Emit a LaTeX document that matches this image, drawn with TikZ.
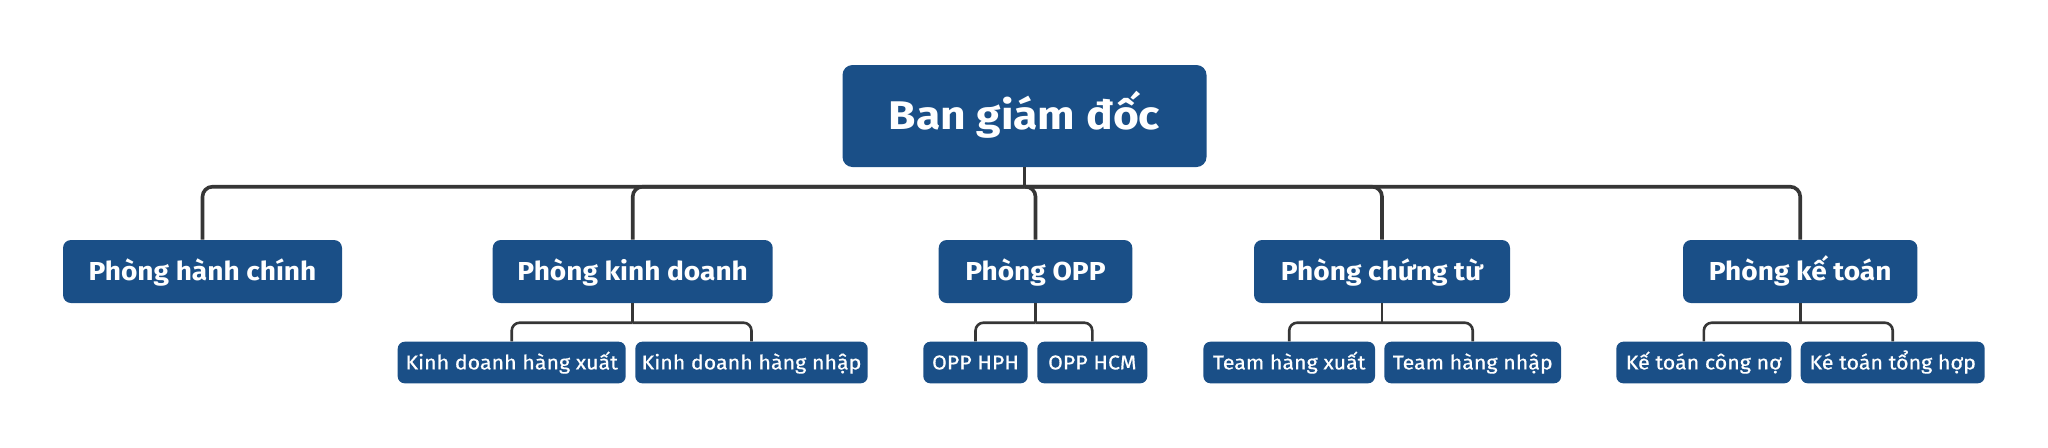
\documentclass[tikz,border=0pt]{standalone}
\usepackage{fontspec}
\setmainfont{Fira Sans}
\newfontfamily\topfont{Fira Sans}[FakeStretch=1.11]
\newfontfamily\deptfont{Fira Sans}[FakeStretch=1.08]
\newfontfamily\teamfont{Fira Sans}[FakeStretch=1.07, FakeBold=0.6]
\usepackage{xcolor}
\definecolor{boxblue}{HTML}{1A4F87}
\definecolor{linegray}{HTML}{363636}

\begin{document}
\begin{tikzpicture}[x=0.5pt, y=-0.5pt,
    box/.style={fill=boxblue, text=white, align=center, inner xsep=0pt, inner ysep=0pt, text depth=0pt},
    top/.style={box, rounded corners=5pt, minimum height=51pt, text height=13.8pt,
        font=\topfont\fontsize{20}{24}\selectfont\bfseries},
    dept/.style={box, rounded corners=4pt, minimum height=31.5pt, text height=9pt,
        font=\deptfont\fontsize{13}{16}\selectfont\bfseries},
    team/.style={box, rounded corners=3.5pt, minimum height=20.8pt, text height=6.9pt,
        font=\teamfont\fontsize{10}{12}\selectfont},
    bus/.style={draw=linegray, line width=1.8pt, rounded corners=5pt},
    twig/.style={draw=linegray, line width=1.3pt, rounded corners=4pt}]
    \useasboundingbox (0,0) rectangle (2048,447);

    % top
    \node[top, minimum width=182pt] (bgd) at (1024.5,116) {Ban giám đốc};

    % departments
    \node[dept, minimum width=139.5pt] (hanhchinh) at (202.5,271.5) {Phòng hành chính};
    \node[dept, minimum width=140pt] (kinhdoanh) at (632.7,271.5) {Phòng kinh doanh};
    \node[dept, minimum width=96.8pt] (opp) at (1035.5,271.5) {Phòng OPP};
    \node[dept, minimum width=128pt] (chungtu) at (1382,271.5) {Phòng chứng từ};
    \node[dept, minimum width=117.2pt] (ketoan) at (1800.2,271.5) {Phòng kế toán};

    % teams
    \node[team, minimum width=114pt] (kdxuat) at (511.7,362.5) {Kinh doanh hàng xuất};
    \node[team, minimum width=116.2pt] (kdnhap) at (751.5,362.5) {Kinh doanh hàng nhập};
    \node[team, minimum width=52.2pt] (opphph) at (975.5,362.5) {OPP HPH};
    \node[team, minimum width=55pt] (opphcm) at (1092.3,362.5) {OPP HCM};
    \node[team, minimum width=85.8pt] (teamxuat) at (1289.2,362.5) {Team hàng xuất};
    \node[team, minimum width=88.4pt] (teamnhap) at (1472.7,362.5) {Team hàng nhập};
    \node[team, minimum width=87.5pt] (ktcongno) at (1703.8,362.5) {Kế toán công nợ};
    \node[team, minimum width=92pt] (kttonghop) at (1892.7,362.5) {Ké toán tổng hợp};

    % connectors
    \coordinate (hub) at (1024.5,186.7);
    \coordinate (subbus) at (0,322.7);
    \draw[bus] (bgd.south) -- (hub);
    \foreach \d in {hanhchinh,kinhdoanh,opp,chungtu,ketoan}
        \draw[bus] (hub) -| (\d.north);
    \foreach \d/\a/\b in {kinhdoanh/kdxuat/kdnhap, opp/opphph/opphcm,
                          chungtu/teamxuat/teamnhap, ketoan/ktcongno/kttonghop} {
        \draw[twig] (\d.south) -- (\d.south |- subbus);
        \draw[twig] (\d.south |- subbus) -| (\a.north);
        \draw[twig] (\d.south |- subbus) -| (\b.north);
    }
\end{tikzpicture}
\end{document}
